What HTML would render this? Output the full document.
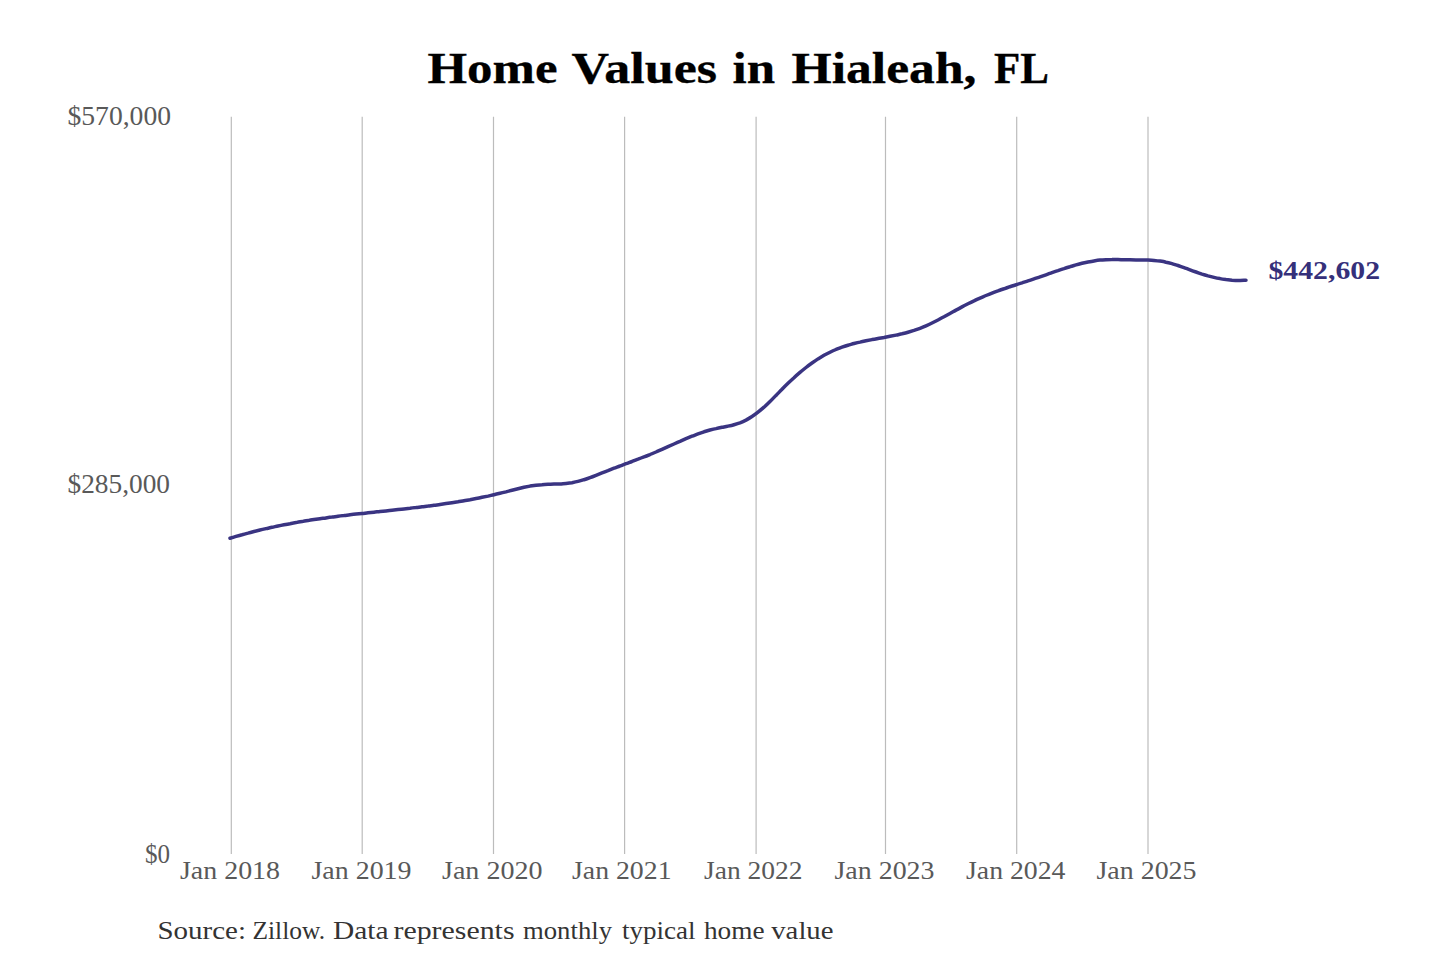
<!DOCTYPE html>
<html><head><meta charset="utf-8"><title>Home Values in Hialeah, FL</title>
<style>
html,body{margin:0;padding:0;background:#fff;width:1440px;height:960px;overflow:hidden}
svg{display:block}
text{font-family:"Liberation Serif",serif}
</style></head><body>
<svg width="1440" height="960" viewBox="0 0 1440 960">
<rect width="1440" height="960" fill="#fff"/>
<g stroke="#bcbcbc" stroke-width="1.2">
<line x1="231.3" y1="116.7" x2="231.3" y2="854"/>
<line x1="362.2" y1="116.7" x2="362.2" y2="854"/>
<line x1="493.5" y1="116.7" x2="493.5" y2="854"/>
<line x1="624.6" y1="116.7" x2="624.6" y2="854"/>
<line x1="756.1" y1="116.7" x2="756.1" y2="854"/>
<line x1="885.5" y1="116.7" x2="885.5" y2="854"/>
<line x1="1016.7" y1="116.7" x2="1016.7" y2="854"/>
<line x1="1148.0" y1="116.7" x2="1148.0" y2="854"/>
</g>
<path d="M230.0,538.2 C231.0,537.9 234.0,537.0 236.0,536.4 C238.0,535.8 240.0,535.2 242.0,534.7 C244.0,534.1 246.0,533.6 248.0,533.1 C250.0,532.5 252.0,532.0 254.0,531.5 C256.0,531.0 258.0,530.5 260.0,530.0 C262.0,529.6 264.0,529.1 266.0,528.6 C268.0,528.2 270.0,527.7 272.0,527.3 C274.0,526.9 276.0,526.4 278.0,526.0 C280.0,525.6 282.0,525.2 284.0,524.8 C286.0,524.4 288.0,524.0 290.0,523.7 C292.0,523.3 294.0,522.9 296.0,522.6 C298.0,522.2 300.0,521.9 302.0,521.6 C304.0,521.2 306.0,520.9 308.0,520.6 C310.0,520.2 312.0,519.9 314.0,519.6 C316.0,519.3 318.0,519.0 320.0,518.7 C322.0,518.4 324.0,518.2 326.0,517.9 C328.0,517.6 330.0,517.3 332.0,517.1 C334.0,516.8 336.0,516.6 338.0,516.3 C340.0,516.0 342.0,515.8 344.0,515.6 C346.0,515.3 348.0,515.1 350.0,514.8 C352.0,514.6 354.0,514.4 356.0,514.1 C358.0,513.9 360.0,513.7 362.0,513.5 C364.0,513.3 366.0,513.0 368.0,512.8 C370.0,512.6 372.0,512.4 374.0,512.2 C376.0,512.0 378.0,511.7 380.0,511.5 C382.0,511.3 384.0,511.1 386.0,510.9 C388.0,510.7 390.0,510.5 392.0,510.2 C394.0,510.0 396.0,509.8 398.0,509.6 C400.0,509.4 402.0,509.2 404.0,508.9 C406.0,508.7 408.0,508.5 410.0,508.3 C412.0,508.0 414.0,507.8 416.0,507.6 C418.0,507.3 420.0,507.1 422.0,506.8 C424.0,506.6 426.0,506.3 428.0,506.1 C430.0,505.8 432.0,505.6 434.0,505.3 C436.0,505.0 438.0,504.8 440.0,504.5 C442.0,504.2 444.0,503.9 446.0,503.6 C448.0,503.3 450.0,503.0 452.0,502.7 C454.0,502.4 456.0,502.1 458.0,501.8 C460.0,501.4 462.0,501.1 464.0,500.7 C466.0,500.4 468.0,500.0 470.0,499.7 C472.0,499.3 474.0,498.9 476.0,498.5 C478.0,498.2 480.0,497.8 482.0,497.3 C484.0,496.9 486.0,496.5 488.0,496.1 C490.0,495.6 492.0,495.2 494.0,494.7 C496.0,494.3 498.0,493.8 500.0,493.3 C502.0,492.9 504.0,492.4 506.0,491.9 C508.0,491.3 510.0,490.8 512.0,490.3 C514.0,489.8 516.0,489.3 518.0,488.8 C520.0,488.3 522.0,487.8 524.0,487.3 C526.0,486.9 528.0,486.5 530.0,486.1 C532.0,485.8 534.0,485.5 536.0,485.2 C538.0,485.0 540.0,484.8 542.0,484.7 C544.0,484.5 546.0,484.4 548.0,484.3 C550.0,484.3 552.0,484.2 554.0,484.1 C556.0,484.0 558.0,484.0 560.0,483.9 C562.0,483.7 564.0,483.6 566.0,483.4 C568.0,483.2 570.0,483.0 572.0,482.7 C574.0,482.3 576.0,481.9 578.0,481.4 C580.0,480.9 582.0,480.4 584.0,479.7 C586.0,479.1 588.0,478.4 590.0,477.6 C592.0,476.9 594.0,476.1 596.0,475.3 C598.0,474.5 600.0,473.7 602.0,472.9 C604.0,472.1 606.0,471.3 608.0,470.6 C610.0,469.8 612.0,469.0 614.0,468.2 C616.0,467.5 618.0,466.7 620.0,466.0 C622.0,465.2 624.0,464.5 626.0,463.7 C628.0,463.0 630.0,462.2 632.0,461.5 C634.0,460.7 636.0,459.9 638.0,459.2 C640.0,458.4 642.0,457.6 644.0,456.8 C646.0,456.1 648.0,455.3 650.0,454.5 C652.0,453.6 654.0,452.8 656.0,452.0 C658.0,451.1 660.0,450.3 662.0,449.4 C664.0,448.5 666.0,447.6 668.0,446.7 C670.0,445.8 672.0,444.9 674.0,444.0 C676.0,443.1 678.0,442.2 680.0,441.4 C682.0,440.5 684.0,439.6 686.0,438.7 C688.0,437.9 690.0,437.0 692.0,436.2 C694.0,435.4 696.0,434.7 698.0,433.9 C700.0,433.2 702.0,432.5 704.0,431.8 C706.0,431.2 708.0,430.6 710.0,430.0 C712.0,429.5 714.0,429.0 716.0,428.6 C718.0,428.1 720.0,427.7 722.0,427.3 C724.0,426.9 726.0,426.6 728.0,426.1 C730.0,425.7 732.0,425.3 734.0,424.7 C736.0,424.1 738.0,423.5 740.0,422.8 C742.0,422.0 744.0,421.1 746.0,420.1 C748.0,419.0 750.0,417.8 752.0,416.5 C754.0,415.2 756.0,413.8 758.0,412.2 C760.0,410.6 762.0,408.9 764.0,407.2 C766.0,405.4 768.0,403.5 770.0,401.5 C772.0,399.6 774.0,397.5 776.0,395.4 C778.0,393.4 780.0,391.3 782.0,389.3 C784.0,387.2 786.0,385.2 788.0,383.3 C790.0,381.4 792.0,379.5 794.0,377.7 C796.0,375.8 798.0,374.1 800.0,372.4 C802.0,370.7 804.0,369.1 806.0,367.5 C808.0,365.9 810.0,364.4 812.0,363.0 C814.0,361.6 816.0,360.2 818.0,358.9 C820.0,357.7 822.0,356.5 824.0,355.3 C826.0,354.2 828.0,353.2 830.0,352.2 C832.0,351.2 834.0,350.3 836.0,349.5 C838.0,348.7 840.0,347.9 842.0,347.2 C844.0,346.5 846.0,345.8 848.0,345.2 C850.0,344.6 852.0,344.1 854.0,343.5 C856.0,343.0 858.0,342.5 860.0,342.1 C862.0,341.6 864.0,341.2 866.0,340.8 C868.0,340.4 870.0,340.0 872.0,339.6 C874.0,339.3 876.0,338.9 878.0,338.5 C880.0,338.2 882.0,337.8 884.0,337.5 C886.0,337.1 888.0,336.7 890.0,336.3 C892.0,335.9 894.0,335.5 896.0,335.1 C898.0,334.7 900.0,334.2 902.0,333.8 C904.0,333.3 906.0,332.8 908.0,332.2 C910.0,331.6 912.0,331.0 914.0,330.4 C916.0,329.7 918.0,329.0 920.0,328.3 C922.0,327.5 924.0,326.7 926.0,325.8 C928.0,324.9 930.0,324.0 932.0,323.0 C934.0,322.0 936.0,321.0 938.0,320.0 C940.0,318.9 942.0,317.8 944.0,316.8 C946.0,315.7 948.0,314.6 950.0,313.5 C952.0,312.4 954.0,311.2 956.0,310.1 C958.0,309.1 960.0,308.0 962.0,306.9 C964.0,305.8 966.0,304.8 968.0,303.8 C970.0,302.8 972.0,301.8 974.0,300.9 C976.0,299.9 978.0,299.0 980.0,298.1 C982.0,297.2 984.0,296.4 986.0,295.5 C988.0,294.7 990.0,293.9 992.0,293.1 C994.0,292.3 996.0,291.6 998.0,290.9 C1000.0,290.1 1002.0,289.4 1004.0,288.8 C1006.0,288.1 1008.0,287.4 1010.0,286.7 C1012.0,286.1 1014.0,285.4 1016.0,284.8 C1018.0,284.1 1020.0,283.5 1022.0,282.9 C1024.0,282.2 1026.0,281.6 1028.0,280.9 C1030.0,280.3 1032.0,279.6 1034.0,278.9 C1036.0,278.2 1038.0,277.6 1040.0,276.9 C1042.0,276.2 1044.0,275.5 1046.0,274.8 C1048.0,274.1 1050.0,273.3 1052.0,272.6 C1054.0,271.9 1056.0,271.2 1058.0,270.6 C1060.0,269.9 1062.0,269.2 1064.0,268.6 C1066.0,267.9 1068.0,267.3 1070.0,266.7 C1072.0,266.0 1074.0,265.5 1076.0,264.9 C1078.0,264.3 1080.0,263.8 1082.0,263.3 C1084.0,262.8 1086.0,262.4 1088.0,262.0 C1090.0,261.6 1092.0,261.2 1094.0,260.9 C1096.0,260.6 1098.0,260.3 1100.0,260.1 C1102.0,259.9 1104.0,259.8 1106.0,259.7 C1108.0,259.6 1110.0,259.6 1112.0,259.6 C1114.0,259.5 1116.0,259.6 1118.0,259.6 C1120.0,259.6 1122.0,259.7 1124.0,259.7 C1126.0,259.8 1128.0,259.8 1130.0,259.8 C1132.0,259.9 1134.0,259.9 1136.0,259.9 C1138.0,259.9 1140.0,259.9 1142.0,259.9 C1144.0,259.9 1146.0,259.9 1148.0,260.0 C1150.0,260.1 1152.0,260.2 1154.0,260.4 C1156.0,260.6 1158.0,260.8 1160.0,261.1 C1162.0,261.4 1164.0,261.7 1166.0,262.2 C1168.0,262.6 1170.0,263.1 1172.0,263.6 C1174.0,264.2 1176.0,264.9 1178.0,265.5 C1180.0,266.2 1182.0,266.9 1184.0,267.6 C1186.0,268.3 1188.0,269.1 1190.0,269.8 C1192.0,270.6 1194.0,271.3 1196.0,272.0 C1198.0,272.7 1200.0,273.4 1202.0,274.1 C1204.0,274.7 1206.0,275.3 1208.0,275.9 C1210.0,276.4 1212.0,276.9 1214.0,277.4 C1216.0,277.9 1218.0,278.3 1220.0,278.6 C1222.0,279.0 1224.0,279.3 1226.0,279.6 C1228.0,279.8 1230.0,280.0 1232.0,280.2 C1234.0,280.3 1236.0,280.4 1238.0,280.4 C1240.0,280.5 1242.7,280.4 1244.0,280.3 C1245.3,280.3 1245.7,280.2 1246.0,280.2" fill="none" stroke="#3a3482" stroke-width="3.5" stroke-linecap="round" stroke-linejoin="round"/>
<text x="427.50" y="83.1" font-weight="bold" font-size="44" fill="#000" stroke="#000" stroke-width="0.3" textLength="130.01" lengthAdjust="spacingAndGlyphs">Home</text>
<text x="571.50" y="83.1" font-weight="bold" font-size="44" fill="#000" stroke="#000" stroke-width="0.3" textLength="145.51" lengthAdjust="spacingAndGlyphs">Values</text>
<text x="732.50" y="83.1" font-weight="bold" font-size="44" fill="#000" stroke="#000" stroke-width="0.3" textLength="42.53" lengthAdjust="spacingAndGlyphs">in</text>
<text x="791.50" y="83.1" font-weight="bold" font-size="44" fill="#000" stroke="#000" stroke-width="0.3" textLength="185.02" lengthAdjust="spacingAndGlyphs">Hialeah,</text>
<text x="994.00" y="83.1" font-weight="bold" font-size="44" fill="#000" stroke="#000" stroke-width="0.3" textLength="55.02" lengthAdjust="spacingAndGlyphs">FL</text>
<text x="67.50" y="124.5" font-size="26.6" fill="#595959" textLength="103.54" lengthAdjust="spacingAndGlyphs">$570,000</text>
<text x="67.50" y="492.5" font-size="26.6" fill="#595959" textLength="102.52" lengthAdjust="spacingAndGlyphs">$285,000</text>
<text x="145.00" y="863.3" font-size="26.6" fill="#595959" textLength="25.06" lengthAdjust="spacingAndGlyphs">$0</text>
<text x="180.00" y="879.4" font-size="26" fill="#595959" textLength="100.01" lengthAdjust="spacingAndGlyphs">Jan 2018</text>
<text x="311.50" y="879.4" font-size="26" fill="#595959" textLength="100.04" lengthAdjust="spacingAndGlyphs">Jan 2019</text>
<text x="442.00" y="879.4" font-size="26" fill="#595959" textLength="100.52" lengthAdjust="spacingAndGlyphs">Jan 2020</text>
<text x="572.00" y="879.4" font-size="26" fill="#595959" textLength="99.56" lengthAdjust="spacingAndGlyphs">Jan 2021</text>
<text x="704.00" y="879.4" font-size="26" fill="#595959" textLength="98.54" lengthAdjust="spacingAndGlyphs">Jan 2022</text>
<text x="834.50" y="879.4" font-size="26" fill="#595959" textLength="100.03" lengthAdjust="spacingAndGlyphs">Jan 2023</text>
<text x="966.00" y="879.4" font-size="26" fill="#595959" textLength="99.51" lengthAdjust="spacingAndGlyphs">Jan 2024</text>
<text x="1096.50" y="879.4" font-size="26" fill="#595959" textLength="100.03" lengthAdjust="spacingAndGlyphs">Jan 2025</text>
<text x="1268.50" y="279.3" font-weight="bold" font-size="25" fill="#35307a" textLength="111.53" lengthAdjust="spacingAndGlyphs">$442,602</text>
<text x="157.50" y="938.9" font-size="26" fill="#333" textLength="88.42" lengthAdjust="spacingAndGlyphs">Source:</text>
<text x="252.50" y="938.9" font-size="26" fill="#333" textLength="72.59" lengthAdjust="spacingAndGlyphs">Zillow.</text>
<text x="333.00" y="938.9" font-size="26" fill="#333" textLength="55.54" lengthAdjust="spacingAndGlyphs">Data</text>
<text x="393.50" y="938.9" font-size="26" fill="#333" textLength="121.02" lengthAdjust="spacingAndGlyphs">represents</text>
<text x="523.00" y="938.9" font-size="26" fill="#333" textLength="89.01" lengthAdjust="spacingAndGlyphs">monthly</text>
<text x="622.00" y="938.9" font-size="26" fill="#333" textLength="73.51" lengthAdjust="spacingAndGlyphs">typical</text>
<text x="704.00" y="938.9" font-size="26" fill="#333" textLength="60.53" lengthAdjust="spacingAndGlyphs">home</text>
<text x="771.25" y="938.9" font-size="26" fill="#333" textLength="62.26" lengthAdjust="spacingAndGlyphs">value</text>
</svg>
</body></html>
